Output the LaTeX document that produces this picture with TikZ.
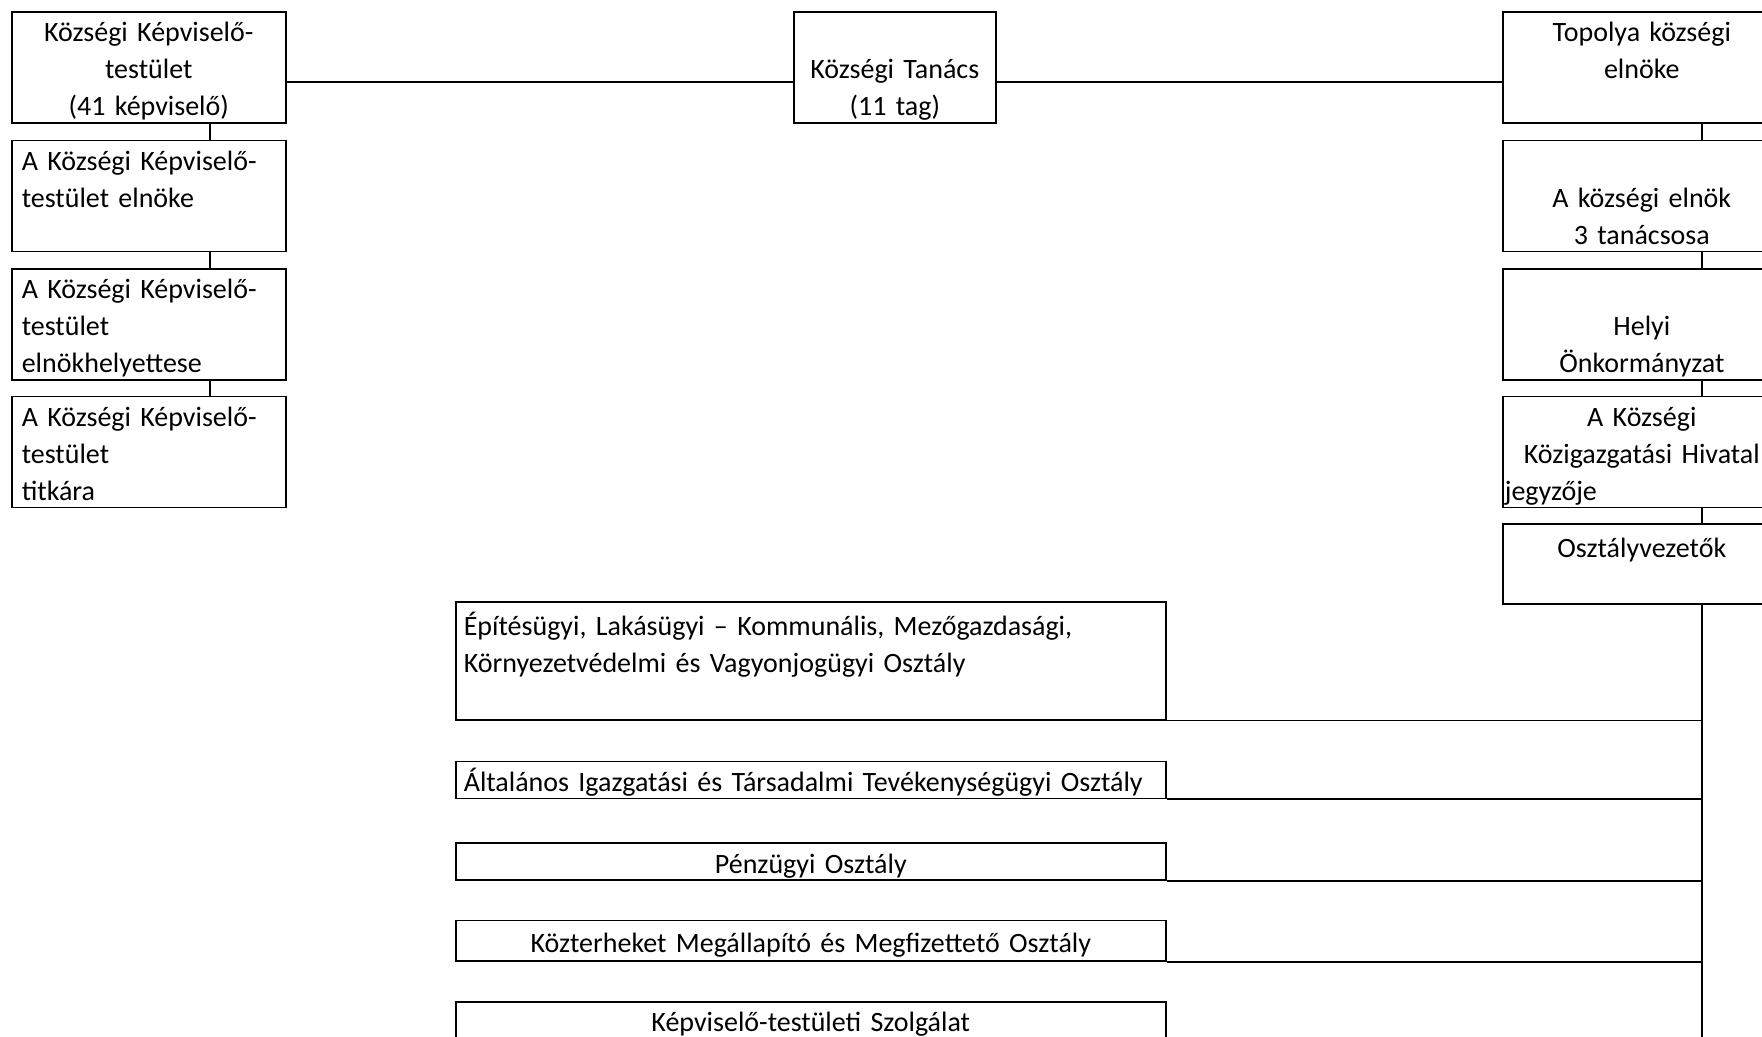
\documentclass[tikz,border=0pt]{standalone}
\usepackage{fontspec}
\setmainfont{Carlito}
\usetikzlibrary{positioning}
\newcommand{\rowstrut}{\rule[-3.5pt]{0pt}{18.5pt}}

\begin{document}
\begin{tikzpicture}[x=0.5pt,y=-0.5pt,node distance=8pt,
  box/.style={draw,line width=0.8pt,inner ysep=0pt,font=\fontsize{14}{18.5}\selectfont,
    execute at begin node=\rowstrut,execute at end node=\rowstrut},
  lbox/.style={box,inner xsep=5pt,text width=127pt,align=left},
  rbox/.style={box,inner xsep=5pt,text width=129pt,align=center},
  obox/.style={box,inner xsep=4pt,text width=347pt},
  link/.style={line width=0.8pt}]
   \useasboundingbox (0,0) rectangle (1762,1037);
   \coordinate (l_x) at (210,0);
   \coordinate (r_x) at (1702,0);
   \coordinate (h_y) at (0,82);
   \coordinate (t_end) at (1702,1037);

   \node[box,align=center,inner xsep=5pt,text width=127pt,anchor=north west] (l_0) at (11,11) {Községi Képviselő-\\testület\\(41 képviselő)};
   \node[lbox] (l_1) [below=of l_0] {A Községi Képviselő-\\testület elnöke\\};
   \node[lbox] (l_2) [below=of l_1] {A Községi Képviselő-\\testület\\elnökhelyettese};
   \node[lbox] (l_3) [below=7.5pt of l_2] {A Községi Képviselő-\\testület\\titkára};

   \node[box,align=center,inner xsep=3pt,text width=95pt,anchor=north west] (c_0) at (793,11) {\\Községi Tanács\\(11 tag)};

   \node[rbox,anchor=north west] (r_0) at (1502,11) {Topolya községi\\elnöke\\};
   \node[rbox] (r_1) [below=of r_0] {\\A községi elnök\\3 tanácsosa};
   \node[rbox] (r_2) [below=of r_1] {\\Helyi\\Önkormányzat};
   \node[rbox,inner xsep=1pt,text width=137pt] (r_3) [below=7.5pt of r_2] {A Községi\\ Közigazgatási Hivatal\\\makebox[\linewidth][l]{jegyzője}};
   \node[rbox,minimum height=40pt] (r_4) [below=7.5pt of r_3] {Osztályvezetők\\};

   \node[obox,align=left,minimum height=59pt,anchor=north west] (o_0) at (455,601) {Építésügyi, Lakásügyi – Kommunális, Mezőgazdasági,\\Környezetvédelmi és Vagyonjogügyi Osztály\\};
   \node[obox,align=left] (o_1) [below=20pt of o_0] {Általános Igazgatási és Társadalmi Tevékenységügyi Osztály};
   \node[obox,align=center] (o_2) [below=21.5pt of o_1] {Pénzügyi Osztály};
   \node[obox,align=center,minimum height=20.3pt] (o_3) [below=19.5pt of o_2] {Közterheket Megállapító és Megfizettető Osztály};
   \node[obox,align=center] (o_4) [below=19.5pt of o_3] {Képviselő-testületi Szolgálat};

   \draw[link] (l_0.east |- h_y) -- (c_0.west |- h_y) (c_0.east |- h_y) -- (r_0.west |- h_y);
   \foreach \a/\b in {0/1,1/2,2/3}
     \draw[link] (l_\a.south -| l_x) -- (l_\b.north -| l_x);
   \foreach \a/\b in {0/1,1/2,2/3,3/4}
     \draw[link] (r_\a.south -| r_x) -- (r_\b.north -| r_x);
   \draw[link] (r_4.south -| r_x) -- (t_end);
   \foreach \i in {0,...,3}
     \draw[link] (o_\i.south east) -- (o_\i.south east -| r_x);
\end{tikzpicture}
\end{document}
